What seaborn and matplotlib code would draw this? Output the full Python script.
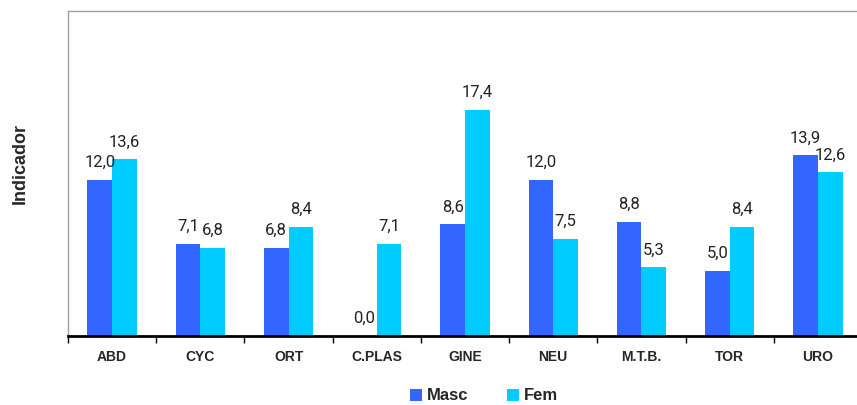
import matplotlib
matplotlib.use("Agg")
import matplotlib.pyplot as plt
import seaborn as sns
import pandas as pd
import numpy as np

categories = ["ABD", "CYC", "ORT", "C.PLAS", "GINE", "NEU", "M.T.B.", "TOR", "URO"]
masc = [12.0, 7.1, 6.8, 0.0, 8.6, 12.0, 8.8, 5.0, 13.9]
fem = [13.6, 6.8, 8.4, 7.1, 17.4, 7.5, 5.3, 8.4, 12.6]
series = ["Masc", "Fem"]
colors = ["#3366FF", "#00CCFF"]

df = pd.DataFrame({
    "cat": categories * 2,
    "val": masc + fem,
    "sexo": ["Masc"] * len(categories) + ["Fem"] * len(categories),
})

sns.set_style("white")
plt.rcParams["font.family"] = ["Liberation Sans", "DejaVu Sans"]

fig = plt.figure(figsize=(8.57, 4.05), dpi=100)
ax = fig.add_axes([68 / 857, 1 - 336 / 405, 794 / 857, 325 / 405])

sns.barplot(data=df, x="cat", y="val", hue="sexo", order=categories,
            hue_order=series, palette=colors, width=0.56, saturation=1,
            linewidth=0, ax=ax, legend=True)

for cont in ax.containers:
    ax.bar_label(cont, labels=[f"{v:.1f}".replace(".", ",") for v in cont.datavalues],
                 padding=7, fontsize=12, family="Roboto", color="#222222")

ax.set_ylim(0, 25)
ax.set_xlim(-0.5, len(categories) - 0.5)
ax.set_yticks([])
ax.set_xlabel("")
ax.set_ylabel("Indicador", fontsize=13, fontweight="bold")
ax.yaxis.set_label_coords(-0.05, 0.53)
ax.tick_params(axis="x", length=0, pad=10)
for lbl in ax.get_xticklabels():
    lbl.set_fontweight("bold")
    lbl.set_fontsize(10)
ax.set_xticks(np.arange(-0.5, len(categories), 1), minor=True)
ax.tick_params(axis="x", which="minor", length=5, width=1, direction="out", color="black", bottom=True)

for s in ["left", "top"]:
    ax.spines[s].set_color("#A0A0A0")
    ax.spines[s].set_linewidth(1)
ax.spines["right"].set_visible(False)
ax.spines["bottom"].set_color("black")
ax.spines["bottom"].set_linewidth(2)

handles, labels = ax.get_legend_handles_labels()
ax.get_legend().remove()
fig.legend(handles, labels, loc="center", bbox_to_anchor=(484 / 857, 1 - 396 / 405), ncol=2,
           frameon=False, handlelength=0.7, handleheight=0.7, handletextpad=0.3,
           columnspacing=2.3, borderaxespad=0, borderpad=0,
           prop={"weight": "bold", "size": 12})

fig.savefig("out.png", dpi=100)
